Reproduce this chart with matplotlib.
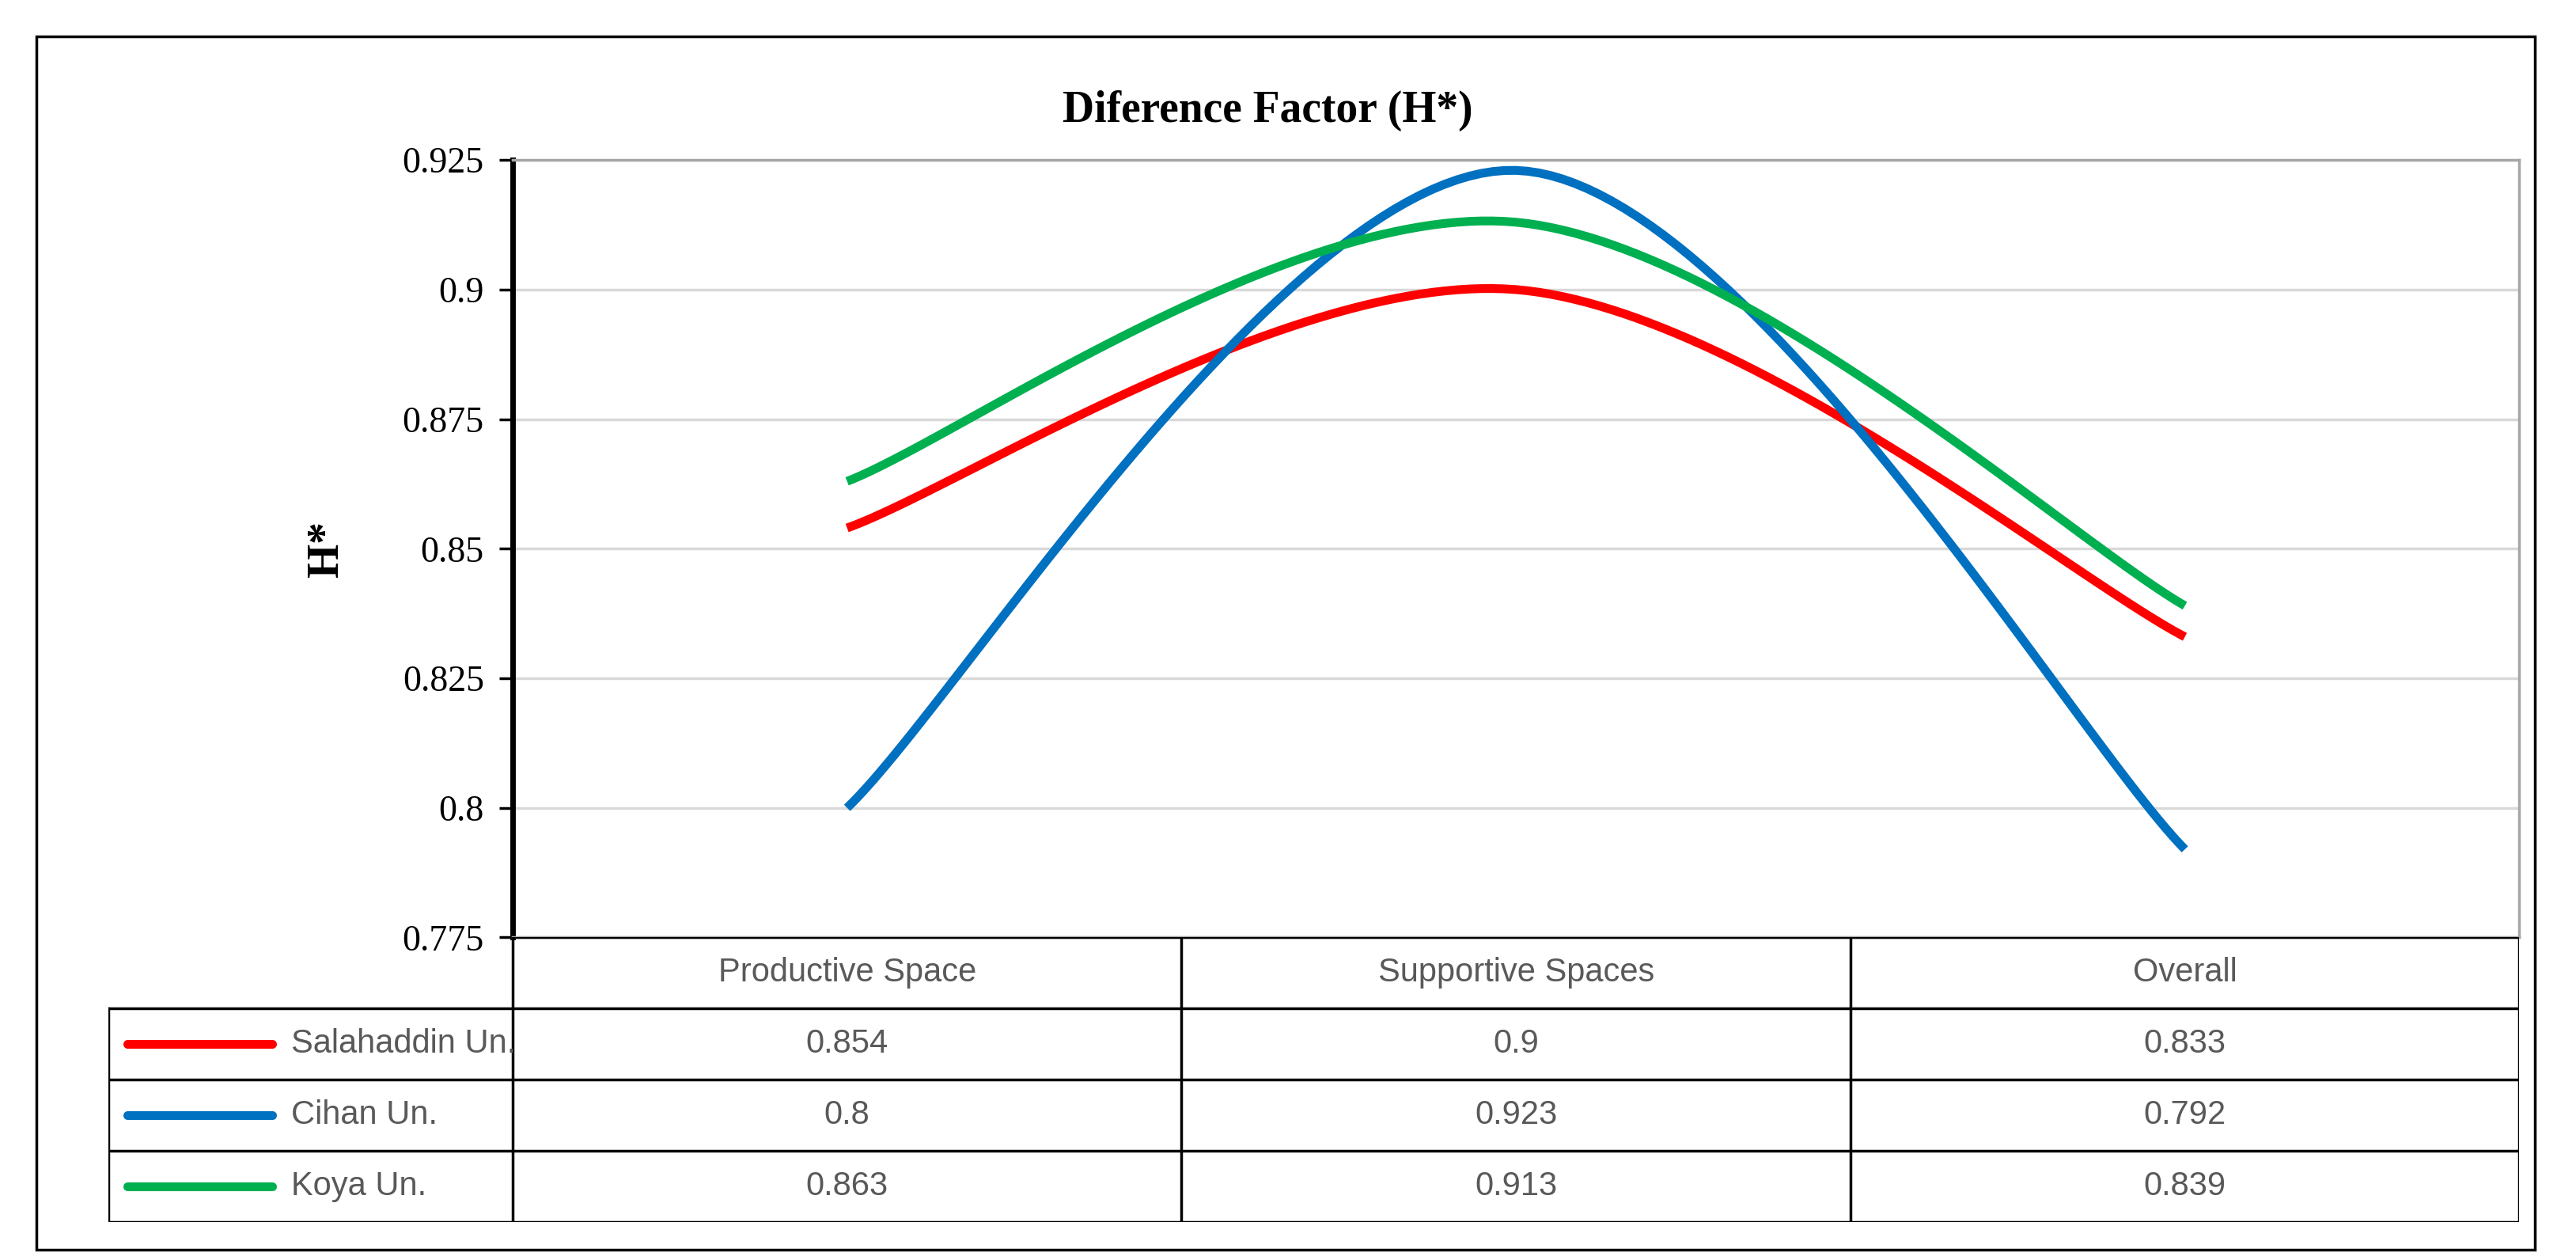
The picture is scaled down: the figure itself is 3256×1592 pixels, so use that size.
import numpy as np
import matplotlib
matplotlib.use("Agg")
import matplotlib.pyplot as plt
from matplotlib.patches import Rectangle

categories = ["Productive Space", "Supportive Spaces", "Overall"]
series_names = ["Salahaddin Un.", "Cihan Un.", "Koya Un."]
salahaddin = [0.854, 0.9, 0.833]
cihan = [0.8, 0.923, 0.792]
koya = [0.863, 0.913, 0.839]
colors = ["#ff0000", "#0070c0", "#00b050"]
yticks = [0.775, 0.8, 0.825, 0.85, 0.875, 0.9, 0.925]
ytick_labels = ["0.775", "0.8", "0.825", "0.85", "0.875", "0.9", "0.925"]
cell_text = ["0.854", "0.9", "0.833"], ["0.8", "0.923", "0.792"], ["0.863", "0.913", "0.839"]


def smooth(xs, ys, n=60):
    # Excel-style smoothed line: Catmull-Rom through the points
    xs = np.asarray(xs, float)
    ys = np.asarray(ys, float)
    px = np.concatenate([[xs[0]], xs, [xs[-1]]])
    py = np.concatenate([[ys[0]], ys, [ys[-1]]])
    ox, oy = [], []
    for i in range(1, len(px) - 2):
        p0, p1, p2, p3 = [np.array([px[j], py[j]]) for j in (i - 1, i, i + 1, i + 2)]
        c1 = p1 + (p2 - p0) / 6
        c2 = p2 - (p3 - p1) / 6
        t = np.linspace(0, 1, n)[:, None]
        b = (1 - t) ** 3 * p1 + 3 * (1 - t) ** 2 * t * c1 + 3 * (1 - t) * t ** 2 * c2 + t ** 3 * p2
        ox.extend(b[:, 0])
        oy.extend(b[:, 1])
    return ox, oy


fig = plt.figure(figsize=(32.56, 15.92), dpi=100)
fig.patches.append(Rectangle((0.014, 0.008), 0.970, 0.963, transform=fig.transFigure,
                             fill=False, edgecolor="black", linewidth=2.5))

ax = fig.add_axes([0.199, 0.256, 0.779, 0.617])
xpos = [0.5, 1.5, 2.5]
for vals, c in zip([salahaddin, cihan, koya], colors):
    sx, sy = smooth(xpos, vals)
    ax.plot(sx, sy, color=c, linewidth=8, solid_capstyle="butt")
ax.set_xlim(0, 3)
ax.set_ylim(0.775, 0.925)
ax.set_yticks(yticks)
ax.set_yticklabels(ytick_labels, fontfamily="Liberation Serif", fontsize=33)
ax.set_xticks([])
ax.yaxis.grid(True, color="#d9d9d9", linewidth=2.5)
ax.set_axisbelow(True)
for s in ["top", "right", "bottom"]:
    ax.spines[s].set_color("#a6a6a6")
    ax.spines[s].set_linewidth(2.5)
ax.spines["left"].set_color("black")
ax.spines["left"].set_linewidth(5)
ax.tick_params(axis="y", length=12, width=2.5, pad=14)
ax.set_ylabel("H*", fontfamily="Liberation Serif", fontsize=40, fontweight="bold", labelpad=50)
fig.text(0.492, 0.912, "Diference Factor (H*)", ha="center", va="center",
         fontfamily="Liberation Serif", fontsize=40, fontweight="bold")

# data table under the plot
tb = fig.add_axes([0.042, 0.030, 0.936, 0.226])
tb.set_xlim(0, 1)
tb.set_ylim(0, 4)
tb.axis("off")
lc = "black"
lw = 2.5
xl = (0.199 - 0.042) / 0.936
cols = [xl + (1 - xl) * k / 3 for k in range(4)]
tb.plot([xl, 1], [4, 4], color=lc, lw=lw)
for cx in cols:
    tb.plot([cx, cx], [0, 4], color=lc, lw=lw)
for r in range(4):
    tb.plot([0, 1], [r, r], color=lc, lw=lw)
tb.plot([0, 0], [0, 3], color=lc, lw=lw)
for k, cat in enumerate(categories):
    tb.text((cols[k] + cols[k + 1]) / 2, 3.5, cat, ha="center", va="center",
            fontsize=30, color="#595959", fontfamily="Liberation Sans")
for r, (name, c, row) in enumerate(zip(series_names, colors, cell_text)):
    yc = 2.5 - r
    tb.plot([0.008, 0.068], [yc, yc], color=c, lw=8, solid_capstyle="round")
    tb.text(0.076, yc, name, ha="left", va="center", fontsize=30, color="#595959",
            fontfamily="Liberation Sans")
    for k, v in enumerate(row):
        tb.text((cols[k] + cols[k + 1]) / 2, yc, v, ha="center", va="center",
                fontsize=30, color="#595959", fontfamily="Liberation Sans")

fig.savefig("out.png", dpi=100)
